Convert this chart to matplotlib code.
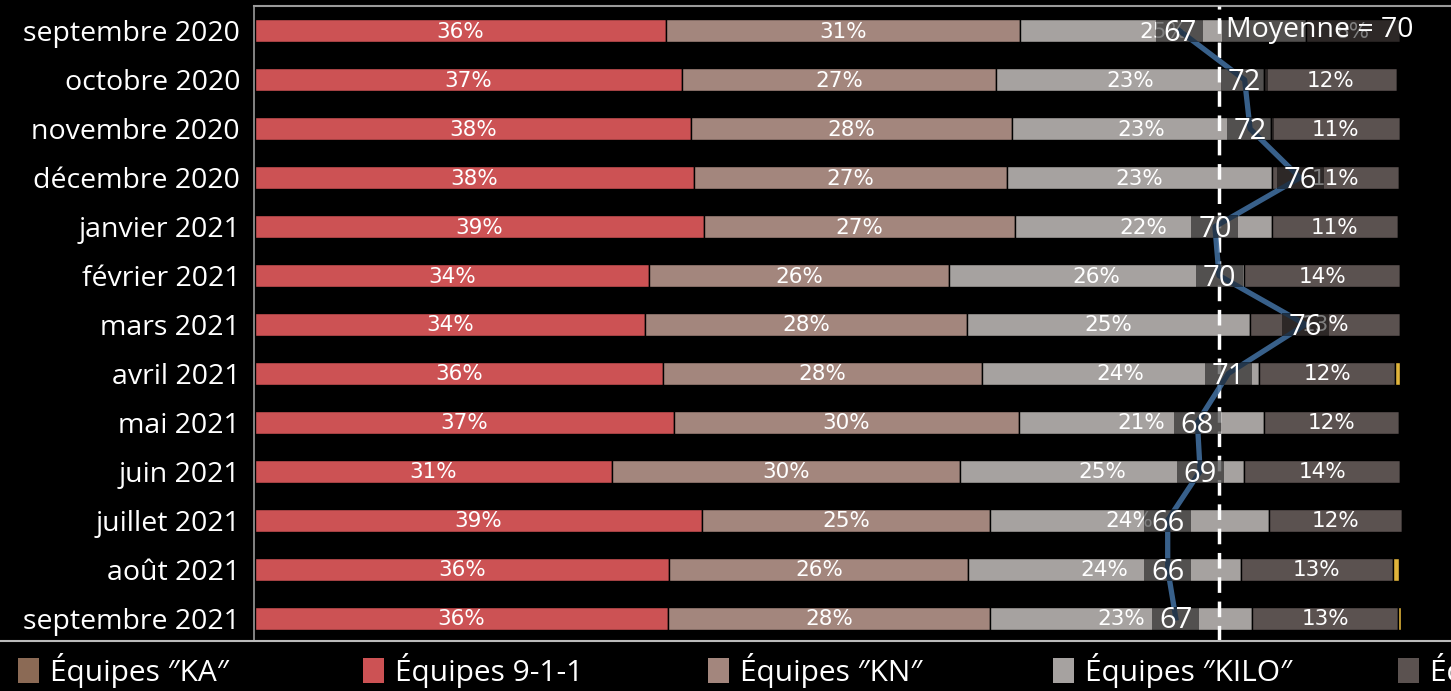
import matplotlib
matplotlib.use("Agg")
import matplotlib.pyplot as plt
from matplotlib.patches import Rectangle
from matplotlib.lines import Line2D
import numpy as np

plt.rcParams['font.family'] = ['Open Sans', 'DejaVu Sans']

months = ["septembre 2020", "octobre 2020", "novembre 2020", "décembre 2020",
          "janvier 2021", "février 2021", "mars 2021", "avril 2021", "mai 2021",
          "juin 2021", "juillet 2021", "août 2021", "septembre 2021"]

equipes_911 = [35.9, 37.3, 38.1, 38.3, 39.2, 34.4, 34.1, 35.6, 36.6, 31.2, 39.0, 36.2, 36.1]
equipes_kn = [30.9, 27.4, 28.0, 27.4, 27.2, 26.2, 28.1, 27.9, 30.1, 30.4, 25.2, 26.1, 28.1]
equipes_kilo = [25.0, 23.4, 22.6, 23.1, 22.4, 25.8, 24.7, 24.2, 21.4, 24.8, 24.4, 23.8, 22.9]
equipes_autre = [8.2, 11.6, 11.3, 11.1, 11.0, 13.6, 13.1, 11.9, 11.8, 13.6, 11.6, 13.3, 12.7]
equipes_jaune = [0.0, 0.0, 0.0, 0.0, 0.0, 0.0, 0.0, 0.4, 0.0, 0.0, 0.0, 0.5, 0.3]

scores = [67.1, 71.9, 72.3, 76.0, 69.7, 70.0, 76.4, 70.7, 68.4, 68.6, 66.2, 66.2, 66.8]
moyenne = 70

legend_labels = ['Équipes ″KA″', 'Équipes 9-1-1', 'Équipes ″KN″', 'Équipes ″KILO″', 'Équipes ″AUTRES″']

c_red = '#cc5254'
c_kn = '#a3867d'
c_kilo = '#a6a2a0'
c_dark = '#5b5250'
c_yel = '#e0b43a'
c_ka = '#8b6a55'
c_line = '#3f6b9a'

W, H = 1451, 691
fig = plt.figure(figsize=(W / 100, H / 100), dpi=100, facecolor='black')
ax = fig.add_axes([254 / W, 1 - 641 / H, (W - 254) / W, (641 - 6) / H])
ax.set_facecolor('black')

y = np.arange(len(months))
bh = 0.47
series = [(equipes_911, c_red), (equipes_kn, c_kn), (equipes_kilo, c_kilo),
          (equipes_autre, c_dark), (equipes_jaune, c_yel)]
left = np.zeros(len(months))
for vals, col in series:
    vals = np.array(vals)
    ax.barh(y, vals, left=left, height=bh, color=col, edgecolor='black', linewidth=1.0, zorder=2)
    if col != c_yel:
        for i, v in enumerate(vals):
            if v > 0:
                ax.text(left[i] + v / 2, y[i] + 0.02, f"{round(v):d}%", ha='center', va='center',
                        color='white', fontsize=15.5, family=['DejaVu Sans'], zorder=3)
    left += vals

px_per_pct = 11.45
ax.set_xlim(-1 / px_per_pct, (W - 255) / px_per_pct)
ax.set_ylim(len(months) - 1 + 0.47, -0.51)
ax.set_yticks(y)
ax.set_yticklabels(months, color='white', fontsize=20.5)
ax.tick_params(axis='y', length=0, pad=10)
ax.set_xticks([])
for s in ['right', 'bottom']:
    ax.spines[s].set_visible(False)
ax.spines['left'].set_color('#9a9a9a')
ax.spines['top'].set_color('#9a9a9a')
ax.spines['left'].set_linewidth(1.2)
ax.spines['top'].set_linewidth(1.5)

# secondary axis for scores
ax2 = ax.twiny()
ax2.set_ylim(ax.get_ylim())
px_per_pt = 13.5
ax2.set_xlim(moyenne + (254 - 1219) / px_per_pt, moyenne + (W - 1219) / px_per_pt)
ax2.axis('off')

ax2.axvline(moyenne, color='white', linestyle=(0, (4.5, 2.5)), linewidth=2.5, zorder=4)
ax2.plot(scores, y, color=c_line, linewidth=3.8, alpha=0.9, zorder=5)
bw = 47 / px_per_pt
for i, s in enumerate(scores):
    ax2.add_patch(Rectangle((s - bw / 2, y[i] - bh / 2), bw, bh, facecolor='black',
                            alpha=0.5, edgecolor='none', zorder=6))
    ax2.text(s, y[i] + 0.06, f"{round(s):d}", ha='center', va='center', color='white',
             fontsize=21, zorder=7)

# Moyenne label
x0 = moyenne + 3 / px_per_pt
x1 = moyenne + (1400 - 1219) / px_per_pt
ax2.add_patch(Rectangle((x0, y[0] - bh / 2), x1 - x0, bh, facecolor='black', alpha=0.5,
                        edgecolor='none', zorder=6))
ax2.text(moyenne + 7 / px_per_pt, y[0] - 0.02, "Moyenne = 70", ha='left', va='center',
         color='white', fontsize=20.5, zorder=7)

# bottom line
fig.add_artist(Line2D([0, 1], [1 - 641 / H, 1 - 641 / H], color='#bbbbbb', linewidth=1.5))

# legend
legend_colors = [c_ka, c_red, c_kn, c_kilo, c_dark]
for k, (lab, col) in enumerate(zip(legend_labels, legend_colors)):
    xs = 18 + 345 * k
    fig.add_artist(Rectangle((xs / W, 1 - 683 / H), 21 / W, 25 / H, transform=fig.transFigure,
                             facecolor=col, edgecolor='none'))
    fig.text((xs + 32) / W, 1 - 671 / H, lab, ha='left', va='center', color='white', fontsize=21.5)

fig.savefig('out.png', dpi=100, facecolor='black')
